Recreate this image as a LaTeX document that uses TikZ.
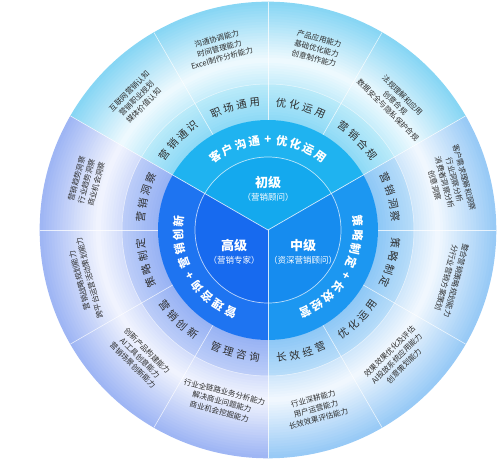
\documentclass[tikz,border=0pt]{standalone}
\usepackage{fontspec}
\setmainfont{Noto Sans CJK SC}
\definecolor{topIn}{HTML}{14A9EE}
\definecolor{topRing}{HTML}{1FB3F0}
\definecolor{rightIn}{HTML}{168CEF}
\definecolor{rightRing}{HTML}{1C97F1}
\definecolor{leftIn}{HTML}{176AEF}
\definecolor{leftRing}{HTML}{1E74F1}
\definecolor{topMidA}{HTML}{8FDAF6}
\definecolor{topMidB}{HTML}{B9EAF9}
\definecolor{topOutA}{HTML}{C9EEFB}
\definecolor{topOutW}{HTML}{EDF9FE}
\definecolor{topOutB}{HTML}{88D6F4}
\definecolor{rightMidA}{HTML}{8FC8F6}
\definecolor{rightMidB}{HTML}{B6DCF9}
\definecolor{rightOutA}{HTML}{D0E7FB}
\definecolor{rightOutW}{HTML}{F0F7FE}
\definecolor{rightOutB}{HTML}{98CAF6}
\definecolor{leftMidA}{HTML}{98B3F4}
\definecolor{leftMidB}{HTML}{BBCCF8}
\definecolor{leftOutA}{HTML}{D4DEFB}
\definecolor{leftOutW}{HTML}{F0F3FE}
\definecolor{leftOutB}{HTML}{9FB6F4}
\definecolor{txtgray}{HTML}{2E2E2E}
% #1 start angle, #2 end angle, #3 #4 radii, #5 #6 colours, #7 step count
\newcommand\gradband[7]{%
  \foreach \k in {0,...,#7} {%
    \pgfmathtruncatemacro\p{100*\k/#7}%
    \pgfmathsetmacro\rr{#3+(#4-#3)*(\k+0.5)/(#7+1)}%
    \pgfmathsetmacro\ww{(#4-#3)/(#7+1)+0.6}%
    \colorlet{tmpc}{#6!\p!#5}%
    \draw[tmpc, line width=\ww pt] (#1:\rr) arc[start angle=#1,end angle=#2,radius=\rr];
  }}
\newcommand\arcout[7]{\foreach \ch [count=\i] in {#6} {\pgfmathsetmacro\ang{#3+((#5-1)/2-(\i-1))*#4}\node[#7,rotate=\ang-90] (#1-\i) at (\ang:#2) {\ch};}}
\newcommand\arcin[7]{\foreach \ch [count=\i] in {#6} {\pgfmathsetmacro\ang{#3-((#5-1)/2-(\i-1))*#4}\node[#7,rotate=\ang+90] (#1-\i) at (\ang:#2) {\ch};}}
\begin{document}
\begin{tikzpicture}[x=1pt,y=1pt,
  midtxt/.style={font=\fontsize{10.5}{12}\selectfont, text=txtgray, inner sep=0},
  ringtxt/.style={font=\fontsize{11.5}{13}\selectfont\bfseries, text=white, inner sep=0},
  outtxt/.style={font=\fontsize{7.6}{10.2}\selectfont, text=txtgray, align=center, inner sep=0},
  lvl/.style={font=\fontsize{13}{15}\selectfont\bfseries, text=white, inner sep=0},
  lvlsub/.style={font=\fontsize{8.5}{10}\selectfont, text=white, inner sep=0},
  divider/.style={white, line width=0.6pt, opacity=0.75}]
\useasboundingbox (-268,-231) rectangle (232,230);
% middle rings
\gradband{30}{150}{110}{146}{topMidA}{topMidB}{12}
\gradband{-90}{30}{110}{146}{rightMidA}{rightMidB}{12}
\gradband{150}{270}{110}{146}{leftMidA}{leftMidB}{12}
% outer rings
\gradband{30}{150}{146}{170}{topOutA}{topOutW}{8}
\gradband{30}{150}{170}{228}{topOutW}{topOutB}{20}
\gradband{-90}{30}{146}{170}{rightOutA}{rightOutW}{8}
\gradband{-90}{30}{170}{228}{rightOutW}{rightOutB}{20}
\gradband{150}{270}{146}{170}{leftOutA}{leftOutW}{8}
\gradband{150}{270}{170}{228}{leftOutW}{leftOutB}{20}
% dark ring and inner sectors
\fill[topRing] (0,0) -- (30:110) arc[start angle=30,end angle=150,radius=110] -- cycle;
\fill[rightRing] (0,0) -- (-90:110) arc[start angle=-90,end angle=30,radius=110] -- cycle;
\fill[leftRing] (0,0) -- (150:110) arc[start angle=150,end angle=270,radius=110] -- cycle;
\fill[topIn] (0,0) -- (30:73) arc[start angle=30,end angle=150,radius=73] -- cycle;
\fill[rightIn] (0,0) -- (-90:73) arc[start angle=-90,end angle=30,radius=73] -- cycle;
\fill[leftIn] (0,0) -- (150:73) arc[start angle=150,end angle=270,radius=73] -- cycle;
\draw[white, line width=0.7pt, opacity=0.7] (0,0) circle (73);
\draw[white, line width=0.5pt, opacity=0.5] (0,0) circle (146);
\foreach \a in {30,150,270} \draw[white, line width=0.7pt, opacity=0.8] (0,0) -- (\a:110);
\foreach \a in {0,30,...,330} \draw[divider] (\a:110) -- (\a:228);
% centre labels
\node[lvl] (l1) at (0,47) {初级};
\node[lvlsub] (l1s) at (0,33) {（营销顾问）};
\node[lvl] (l3) at (-34,-16) {高级};
\node[lvlsub] (l3s) at (-34,-30) {（营销专家）};
\node[lvl] (l2) at (35,-16) {中级};
\node[lvlsub] (l2s) at (35,-30) {（资深营销顾问）};
% dark ring texts
\arcout{rt}{90}{90}{8.9}{9}{客,户,沟,通,+,优,化,运,用}{ringtxt}
\arcout{rr}{90}{-30}{8.9}{9}{策,略,制,定,+,长,效,经,营}{ringtxt}
\arcout{rl}{90}{210}{8.9}{9}{管,理,咨,询,+,营,销,创,新}{ringtxt}
% middle ring texts
\arcout{m15}{128}{15}{6}{4}{营,销,洞,察}{midtxt}
\arcout{m45}{128}{45}{6}{4}{营,销,合,规}{midtxt}
\arcout{m75}{128}{75}{6}{4}{优,化,运,用}{midtxt}
\arcout{m105}{128}{105}{6}{4}{职,场,通,用}{midtxt}
\arcout{m135}{128}{135}{6}{4}{营,销,通,识}{midtxt}
\arcout{m165}{128}{165}{6}{4}{营,销,洞,察}{midtxt}
\arcout{m195}{128}{195}{6}{4}{策,略,制,定}{midtxt}
\arcin{m225}{128}{225}{6}{4}{营,销,创,新}{midtxt}
\arcin{m255}{128}{255}{6}{4}{管,理,咨,询}{midtxt}
\arcin{m285}{128}{285}{6}{4}{长,效,经,营}{midtxt}
\arcin{m315}{128}{315}{6}{4}{优,化,运,用}{midtxt}
\arcout{m345}{128}{345}{6}{4}{策,略,制,定}{midtxt}
% outer ring texts
\node[outtxt, rotate=-75] (o15) at (15:188) {客户需求理解和洞察\\行业洞察分析\\消费者洞察分析\\创意洞察};
\node[outtxt, rotate=-45] (o45) at (45:180) {法规理解和应用\\创意合规\\数据安全与隐私保护合规};
\node[outtxt, rotate=-15] (o75) at (75:188) {产品应用能力\\基础优化能力\\创意制作能力};
\node[outtxt, rotate=15] (o105) at (105:188) {沟通协调能力\\时间管理能力\\Excel制作分析能力};
\node[outtxt, rotate=45] (o135) at (135:186) {互联网营销认知\\营销职业规划\\媒体价值认知};
\node[outtxt, rotate=75] (o165) at (165:188) {营销趋势洞察\\行业趋势洞察\\商业机会洞察};
\node[outtxt, rotate=105] (o195) at (195:190) {营销战略规划能力\\跨平台运营活动策划能力};
\node[outtxt, rotate=-45] (o225) at (225:181) {创新产品构建能力\\AI工具创意能力\\营销场景创新能力};
\node[outtxt, rotate=-15] (o255) at (255:178) {行业全链路业务分析能力\\解决商业问题能力\\商业机会挖掘能力};
\node[outtxt, rotate=15] (o285) at (285:185) {行业深耕能力\\用户运营能力\\长效效果评估能力};
\node[outtxt, rotate=45] (o315) at (315:182) {效果效果优化及评估\\AI投放系统应用能力\\创意策划能力};
\node[outtxt, rotate=-105] (o345) at (345:190) {整合营销策略规划能力\\分行业营销方案策划};
\end{tikzpicture}
\end{document}
